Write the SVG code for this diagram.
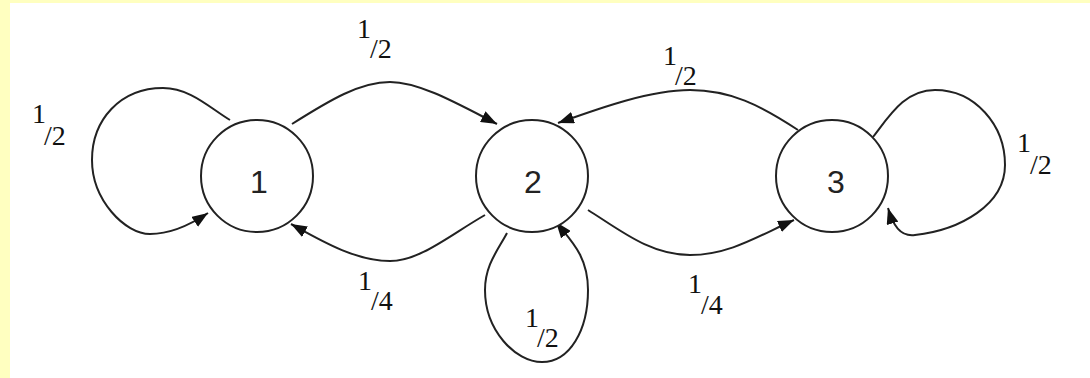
<svg xmlns="http://www.w3.org/2000/svg" width="1090" height="378" viewBox="0 0 1090 378">
<defs>
<style>
.node{fill:#fff;stroke:#222;stroke-width:2}
.nl{font-family:"Liberation Sans",Arial,sans-serif;font-size:32px;fill:#222;text-anchor:middle}
.edge{fill:none;stroke:#222;stroke-width:2}
.lb{font-family:"Liberation Serif","Times New Roman",serif;font-size:28px;fill:#111}
</style>
<marker id="arr" viewBox="0 0 16 12" refX="16" refY="6" markerWidth="16" markerHeight="12" markerUnits="userSpaceOnUse" orient="auto">
<path d="M0,0 L16,6 L0,12 Z" fill="#111"/>
</marker>
</defs>
<rect x="0" y="0" width="1090" height="378" fill="#ffffc0"/>
<rect x="10" y="3" width="1080" height="375" fill="#fff"/>
<g id="connectors">
<path class="edge" marker-end="url(#arr)" d="M292,124 C330,100 360,82 390,82 C420,82 460,105 497,124"/>
<path class="edge" marker-end="url(#arr)" d="M798,130 C760,105 730,90 690,90 C650,90 600,108 558,123"/>
<path class="edge" marker-end="url(#arr)" d="M485,215 C450,235 420,261 390,261 C355,261 320,240 291,224"/>
<path class="edge" marker-end="url(#arr)" d="M588,210 C620,230 650,255 690,255 C730,255 760,235 794,220"/>
<path class="edge" marker-end="url(#arr)" d="M230,120 C210,108 190,88 163,88 C120,88 92,120 92,160 C92,200 125,234 150,234 C170,234 190,225 208,213"/>
<path class="edge" marker-end="url(#arr)" d="M507,233 C498,250 485,265 485,290 C485,330 515,362 542,362 C570,362 588,330 588,290 C588,255 570,240 556,222"/>
<path class="edge" marker-end="url(#arr)" d="M873,137 C890,115 905,90 935,90 C975,90 1005,125 1005,165 C1005,205 960,230 915,235 C900,237 893,225 888,208"/>
</g>
<g id="node1"><circle class="node" cx="257" cy="176" r="56"/><text class="nl" x="259" y="193">1</text></g>
<g id="node2"><circle class="node" cx="532" cy="176" r="56"/><text class="nl" x="533" y="193">2</text></g>
<g id="node3"><circle class="node" cx="832" cy="176" r="56"/><text class="nl" x="836" y="193">3</text></g>
<g id="labels">
<text class="lb" x="357" y="38">1</text><text class="lb" x="370" y="58">/2</text>
<text class="lb" x="663" y="65">1</text><text class="lb" x="675" y="85">/2</text>
<text class="lb" x="32" y="123">1</text><text class="lb" x="44" y="145">/2</text>
<text class="lb" x="1017" y="152">1</text><text class="lb" x="1030" y="174">/2</text>
<text class="lb" x="358" y="290">1</text><text class="lb" x="371" y="310">/4</text>
<text class="lb" x="688" y="293">1</text><text class="lb" x="701" y="314">/4</text>
<text class="lb" x="525" y="327">1</text><text class="lb" x="537" y="347">/2</text>
</g>
</svg>
